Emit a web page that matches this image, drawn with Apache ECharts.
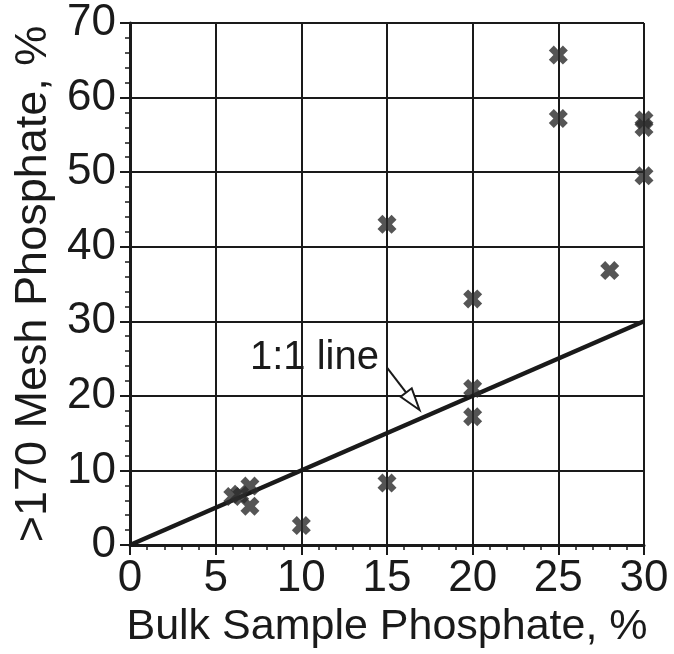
<!DOCTYPE html>
<html lang="en">
<head>
    <meta charset="UTF-8">
    <title>Mesh vs Bulk Phosphate</title>
    <script src="https://cdn.jsdelivr.net/npm/echarts@6/dist/echarts.min.js"></script>
    <style>
        html, body { margin: 0; padding: 0; background: #fff; }
    </style>
</head>
<body>
<div id="chart" style="width: 674px;height: 654px"></div>

<script>
    // bulk sample phosphate (x) and >170 mesh phosphate (y), %
    var bulkX = [6, 6.4, 7, 7, 10, 15, 15, 20, 20, 20, 25, 25, 28, 30, 30, 30];
    var meshY = [6.5, 6.8, 7.9, 5.2, 2.6, 8.3, 43, 33, 21, 17.2, 65.7, 57.2, 36.8, 57, 56, 49.5];

    // 1:1 reference line
    var oneToOne = [[0, 0], [30, 30]];

    // annotation (data coordinates)
    var labelText = '1:1 line';
    var labelPos = [7.0, 25.1];
    var arrowFrom = [15.0, 23.8];
    var arrowTo = [16.9, 18.1];

    var xTicks = [0, 5, 10, 15, 20, 25, 30];
    var yTicks = [0, 10, 20, 30, 40, 50, 60, 70];

    var font = '"Liberation Sans", Arial, Helvetica, sans-serif';
    var ink = '#1a1a1a';

    var points = bulkX.map(function (x, i) { return [x, meshY[i]]; });

    var chart = echarts.init(document.getElementById('chart'));
    var option = {
        backgroundColor: '#fff',
        animation: false,
        grid: { left: 130, right: 30, top: 23, bottom: 109 },
        xAxis: {
            type: 'value',
            min: xTicks[0],
            max: xTicks[xTicks.length - 1],
            interval: 5,
            name: 'Bulk Sample Phosphate, %',
            nameLocation: 'middle',
            nameGap: 54,
            nameTextStyle: { fontFamily: font, fontSize: 43, color: ink },
            axisLine: { lineStyle: { color: ink, width: 3 } },
            axisTick: { length: 10, lineStyle: { color: ink, width: 2 } },
            minorTick: { show: true, splitNumber: 5, length: 5, lineStyle: { color: ink, width: 1.5 } },
            axisLabel: { fontFamily: font, fontSize: 44, color: ink, margin: 12 },
            splitLine: { show: true, lineStyle: { color: ink, width: 2 } }
        },
        yAxis: {
            type: 'value',
            min: yTicks[0],
            max: yTicks[yTicks.length - 1],
            interval: 10,
            name: '>170 Mesh Phosphate, %',
            nameLocation: 'middle',
            nameGap: 72,
            nameTextStyle: { fontFamily: font, fontSize: 45, color: ink },
            axisLine: { lineStyle: { color: ink, width: 3 } },
            axisTick: { length: 10, lineStyle: { color: ink, width: 2 } },
            minorTick: { show: true, splitNumber: 5, length: 5, lineStyle: { color: ink, width: 1.5 } },
            axisLabel: { fontFamily: font, fontSize: 44, color: ink, margin: 14 },
            splitLine: { show: true, lineStyle: { color: ink, width: 2 } }
        },
        series: [
            {
                type: 'line',
                data: oneToOne,
                symbol: 'none',
                lineStyle: { color: ink, width: 4.5 },
                z: 3
            },
            {
                type: 'scatter',
                data: points,
                symbol: 'path://M2.6,0 L5,2.4 L7.4,0 L10,2.6 L7.6,5 L10,7.4 L7.4,10 L5,7.6 L2.6,10 L0,7.4 L2.4,5 L0,2.6 Z',
                symbolSize: 19,
                itemStyle: { color: '#2b2b2b' },
                z: 4
            },
            {
                type: 'custom',
                data: [arrowTo],
                z: 5,
                renderItem: function (params, api) {
                    var p0 = api.coord(arrowFrom);
                    var p1 = api.coord(arrowTo);
                    var ang = Math.atan2(p1[1] - p0[1], p1[0] - p0[0]);
                    var headLen = 22, headHalf = 7;
                    var bx = p1[0] - headLen * Math.cos(ang);
                    var by = p1[1] - headLen * Math.sin(ang);
                    var nx = -Math.sin(ang) * headHalf;
                    var ny = Math.cos(ang) * headHalf;
                    var t = api.coord(labelPos);
                    return {
                        type: 'group',
                        children: [
                            {
                                type: 'line',
                                shape: { x1: p0[0], y1: p0[1], x2: bx, y2: by },
                                style: { stroke: ink, lineWidth: 2 }
                            },
                            {
                                type: 'polygon',
                                shape: { points: [[p1[0], p1[1]], [bx + nx, by + ny], [bx - nx, by - ny]] },
                                style: { fill: '#fff', stroke: ink, lineWidth: 2 }
                            },
                            {
                                type: 'text',
                                x: t[0],
                                y: t[1],
                                style: {
                                    text: labelText,
                                    fontFamily: font,
                                    fontSize: 40,
                                    fill: ink,
                                    verticalAlign: 'middle',
                                    align: 'left'
                                }
                            }
                        ]
                    };
                }
            }
        ]
    };
    chart.setOption(option);
</script>
</body>
</html>
